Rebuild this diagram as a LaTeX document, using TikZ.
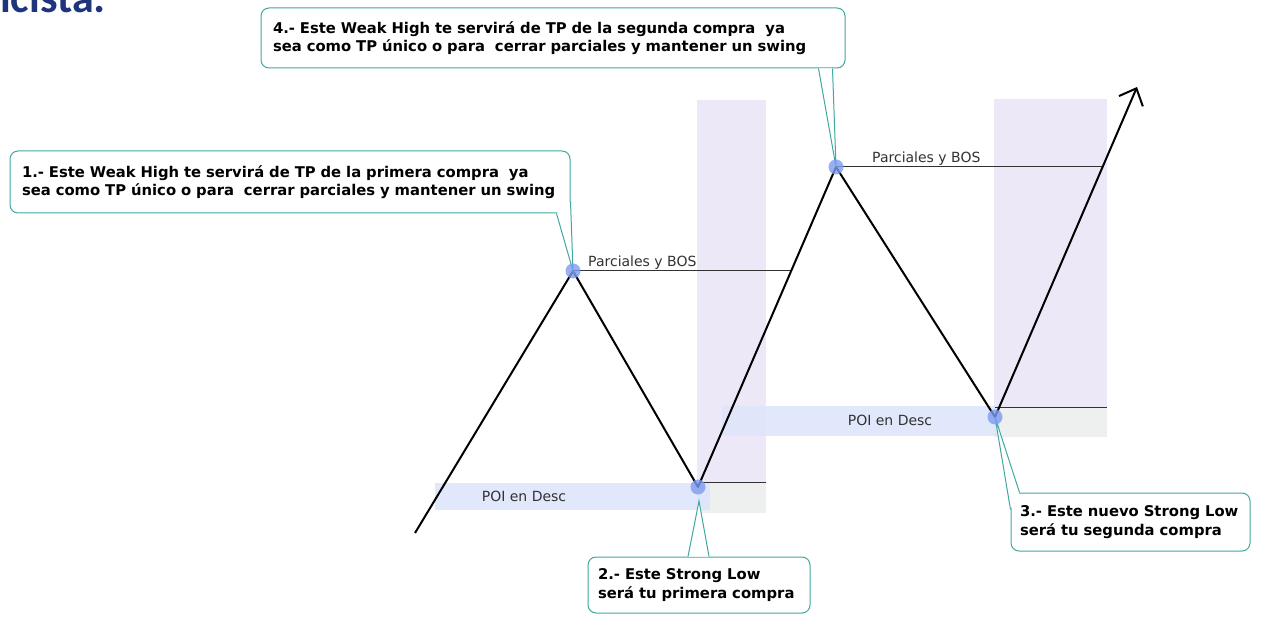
\documentclass[tikz,border=0pt]{standalone}
\usepackage{fontspec}
\setmainfont{DejaVu Sans}
\newfontfamily\titlefont{Carlito}
\usetikzlibrary{arrows.meta,calc}
\definecolor{tealc}{RGB}{64,168,160}
\definecolor{lav}{RGB}{237,232,248}
\definecolor{poic}{RGB}{222,229,251}
\definecolor{grayb}{RGB}{238,240,240}
\definecolor{dotc}{RGB}{125,155,240}
\definecolor{navyc}{RGB}{30,52,125}
\definecolor{darkg}{RGB}{50,50,50}
\begin{document}
\begin{tikzpicture}[x=1pt,y=-1pt,
  cbox/.style={draw=tealc, line width=1pt, fill=white, rounded corners=8pt, align=left,
    inner ysep=0pt, font=\fontsize{14.8}{18.5}\selectfont\bfseries},
  ptr/.style={draw=tealc, line width=1pt, fill=white},
  pdot/.style={circle, fill=dotc, fill opacity=0.8, minimum size=15pt, inner sep=0pt},
  trendline/.style={line width=2pt, black, line join=round},
  bosline/.style={line width=1pt, darkg},
  lbl/.style={font=\fontsize{14}{16}\selectfont, text=darkg, inner sep=0pt},
]
\useasboundingbox (0,0) rectangle (1261,617);
\fill[white] (0,0) rectangle (1261,617);

% partial title at the top edge
\node[anchor=base east, inner sep=0pt, text=navyc, font=\titlefont\fontsize{44}{44}\selectfont\bfseries] (title) at (106,13) {alcista:};

% zones
\fill[lav] (697,100) rectangle (766,482);
\fill[grayb] (697,482) rectangle (766,513);
\fill[lav] (994,99) rectangle (1107,407);
\fill[grayb] (994,407) rectangle (1107,437);
\fill[poic, opacity=0.85] (435,483) rectangle (710,510);
\fill[poic, opacity=0.85] (722,406) rectangle (1000,436);
\draw[bosline, line width=0.8pt] (700,482) -- (766,482);
\draw[bosline, line width=0.8pt] (995,407) -- (1107,407);
\node[lbl] (poi1) at (524,496) {POI en Desc};
\node[lbl] (poi2) at (890,420) {POI en Desc};

% swing points
\coordinate (s) at (415,533);
\coordinate (h1) at (573,271);
\coordinate (l1) at (698,487);
\coordinate (h2) at (836,167);
\coordinate (l2) at (995,417);
\coordinate (e) at (1137,87);
\coordinate (b1) at (791,271);
\coordinate (b2) at (1102,167);

\draw[bosline] (h1) -- (h1 -| b1);
\draw[bosline] (h2) -- (h2 -| b2);
\node[lbl, anchor=base west] (bos1) at (588,267) {Parciales y BOS};
\node[lbl, anchor=base west] (bos2) at (872,163) {Parciales y BOS};

\draw[trendline, -{Straight Barb[length=14pt,width=26pt]}] (s) -- (h1) -- (l1) -- (h2) -- (l2) -- (e);

% callouts
\node[cbox, minimum width=560pt, minimum height=62pt, text width=536pt, inner xsep=12pt] (c1) at (290,182)
  {1.- Este Weak High te servirá de TP de la primera compra\ \ ya\\sea como TP único o para\ \ cerrar parciales y mantener un swing};
\node[cbox, minimum width=584pt, minimum height=60pt, text width=560pt, inner xsep=12pt] (c4) at (553,38)
  {4.- Este Weak High te servirá de TP de la segunda compra\ \ ya\\sea como TP único o para\ \ cerrar parciales y mantener un swing};
\node[cbox, minimum width=222pt, minimum height=56pt, text width=202pt, inner xsep=10pt] (c2) at (699,585)
  {2.- Este Strong Low\\será tu primera compra};
\node[cbox, minimum width=239pt, minimum height=58pt, text width=221pt, inner xsep=9pt] (c3) at (1130.5,522)
  {3.- Este nuevo Strong Low\\será tu segunda compra};

\coordinate (t2) at (699,501);
\filldraw[ptr] ($(c1.south east)+(-14,0)$) -- (h1) -- ($(c1.south east)+(0,-12)$);
\filldraw[ptr] ($(c4.south east)+(-27,0)$) -- (h2) -- ($(c4.south east)+(-13,0)$);
\filldraw[ptr] ($(c2.north)+(-11,0)$) -- (t2) -- ($(c2.north)+(10,0)$);
\filldraw[ptr] ($(c3.north west)+(9,0)$) -- (l2) -- ($(c3.north west)+(0,17)$);

% dots
\node[pdot] (d1) at (h1) {};
\node[pdot] (d2) at (l1) {};
\node[pdot] (d3) at (h2) {};
\node[pdot] (d4) at (l2) {};
\end{tikzpicture}
\end{document}
